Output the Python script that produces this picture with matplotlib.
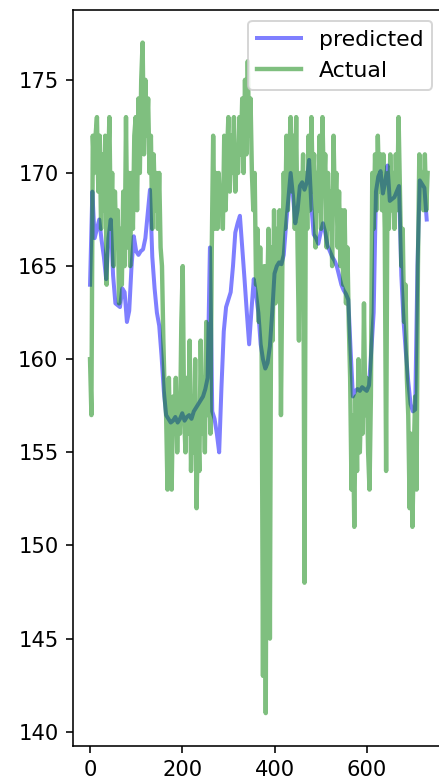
import numpy as np
import matplotlib
matplotlib.use("Agg")
import matplotlib.pyplot as plt

# Actual values (sampled every 3 steps)
actual_step = 3
actual = [
    160, 157, 172, 170, 172, 173, 169, 172, 167, 171,
    168, 172, 164, 170, 173, 167, 170, 165, 169, 166,
    168, 163, 167, 164, 169, 165, 173, 166, 170, 165,
    170, 167, 172, 173, 168, 174, 170, 175, 177, 171,
    175, 172, 174, 170, 172, 167, 171, 168, 170, 167,
    170, 166, 165, 161, 158, 157, 153, 159, 155, 153,
    158, 156, 159, 155, 158, 156, 162, 165, 157, 155,
    159, 156, 161, 154, 158, 155, 160, 152, 157, 154,
    161, 156, 159, 155, 162, 157, 160, 156, 166, 172,
    167, 170, 167, 170, 168, 169, 167, 172, 168, 171,
    173, 169, 172, 170, 173, 169, 171, 170, 173, 171,
    174, 170, 175, 171, 176, 172, 174, 170, 168, 170,
    164, 167, 162, 166, 161, 143, 165, 141, 163, 167,
    145, 166, 161, 168, 163, 167, 164, 168, 157, 165,
    170, 167, 172, 168, 171, 173, 169, 172, 167, 173,
    166, 161, 170, 167, 171, 148, 170, 167, 172, 168,
    173, 169, 171, 166, 170, 168, 172, 167, 173, 169,
    171, 166, 170, 167, 169, 165, 172, 168, 170, 166,
    169, 165, 168, 164, 168, 163, 166, 162, 159, 153,
    157, 151, 158, 154, 160, 155, 158, 156, 163, 157,
    159, 155, 153, 158, 170, 167, 171, 168, 172, 169,
    171, 168, 171, 167, 154, 170, 167, 171, 168, 170,
    167, 171, 168, 173, 169, 165, 167, 162, 164, 159,
    157, 152, 156, 151, 155, 158, 153, 165, 171, 169,
    170, 168, 171, 168, 170,
]

# Predicted values (sampled every 5 steps)
pred_step = 5
predicted = [
    164.0, 169.0, 166.5, 167.0, 167.5, 166.4, 165.5, 164.3, 166.5, 167.5,
    164.5, 163.0, 162.9, 162.8, 163.8, 163.6, 162.0, 162.6, 165.0, 166.6,
    165.8, 165.6, 165.8, 165.9, 166.5, 167.8, 169.1, 165.5, 163.8, 162.5,
    161.8, 160.2, 158.3, 157.0, 156.8, 156.6, 156.7, 156.9, 156.6, 156.8,
    157.1, 156.7, 156.9, 157.0, 156.8, 157.2, 157.4, 157.6, 157.8, 158.0,
    158.4, 159.0, 166.0, 157.2, 156.8, 156.0, 155.0, 158.5, 161.5, 162.8,
    163.2, 163.6, 165.0, 166.8, 167.3, 167.7, 166.0, 164.3, 162.5, 160.8,
    162.6, 164.3, 163.5, 162.5, 160.8, 160.0, 159.5, 159.8, 160.7, 162.5,
    164.6, 165.0, 165.2, 165.1, 165.6, 167.2, 168.6, 170.0, 168.8, 167.3,
    168.0, 169.3, 169.5, 169.1, 169.5, 170.7, 168.2, 166.7, 166.5, 166.2,
    166.8, 167.3, 166.8, 166.1, 165.8, 165.5, 165.3, 165.0, 164.5, 164.0,
    163.7, 163.5, 163.2, 160.5, 158.0, 158.3, 158.4, 158.3, 158.5, 158.4,
    158.3, 158.6, 160.5, 162.5, 169.0, 169.8, 170.1, 168.9, 169.5, 170.4,
    168.5, 168.6, 168.7, 169.0, 169.3, 164.5, 162.0, 160.3, 158.8, 157.6,
    157.2, 157.3, 165.0, 169.6, 169.4, 169.2, 167.5,
]

actual_x = np.arange(len(actual)) * actual_step
pred_x = np.arange(len(predicted)) * pred_step

DPI = 144
fig = plt.figure(figsize=(439 / DPI, 783 / DPI), dpi=DPI)
W, H = 439.0, 783.0
left_px, right_px, top_px, bottom_px = 72.5, 443.3, 10.0, 745.7
ax = fig.add_axes([left_px / W, 1 - bottom_px / H,
                   (right_px - left_px) / W, (bottom_px - top_px) / H])

ax.plot(pred_x, predicted, color='blue', alpha=0.5, lw=2.0, label='predicted')
ax.plot(actual_x, actual, color='green', alpha=0.5, lw=2.2, label='Actual')

ax.set_xlim(-38, 766)
ax.set_ylim(139.25, 178.75)
ax.set_xticks([0, 200, 400, 600])
ax.set_yticks([140, 145, 150, 155, 160, 165, 170, 175])
ax.tick_params(labelsize=10.5)
ax.legend(loc='upper right', fontsize=11)

fig.savefig('out.png', dpi=DPI)
